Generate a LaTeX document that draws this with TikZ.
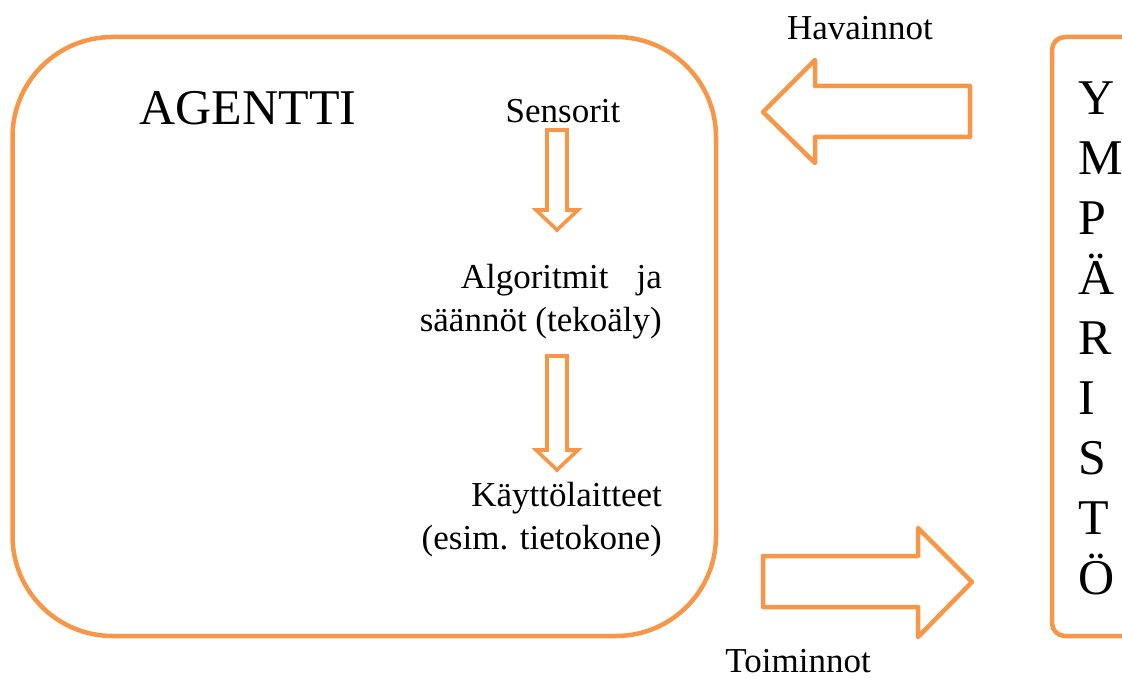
\documentclass[tikz,border=0pt]{standalone}
\usepackage{fontspec}
\setmainfont{Liberation Serif}
\definecolor{agentorange}{HTML}{F79646}

\begin{document}
\begin{tikzpicture}[x=1pt, y=-1pt, line cap=round,
  every node/.style={inner sep=0pt, text=black},
  bodytext/.style={font=\fontsize{35}{43}\selectfont},
  bigtext/.style={font=\fontsize{50}{60}\selectfont},
  frame/.style={draw=agentorange, line width=4.5pt},
  bigarrow/.style={draw=agentorange, line width=4.5pt, line join=round},
  smallarrow/.style={draw=agentorange, line width=3.6pt, line join=miter}]
  \useasboundingbox (0,0) rectangle (1122,679);

  \draw[frame, rounded corners=100pt] (12.5,37) rectangle (716,636);
  \draw[frame, rounded corners=13pt] (1052,37) rectangle (1160,636);

  \node[bigtext, anchor=base] (agentti) at (248,125) {AGENTTI};
  \node[bodytext, anchor=base] (sensorit) at (563,123) {Sensorit};
  \node[bodytext, anchor=east, align=right] (algoritmit) at (662,302)
    {Algoritmit\hspace{0.8em}ja\\ säännöt (tekoäly)};
  \node[bodytext, anchor=east, align=right] (laitteet) at (662,520)
    {Käyttölaitteet\\ (esim. tietokone)};
  \node[bodytext, anchor=base] (havainnot) at (860,40) {Havainnot};
  \node[bodytext, anchor=base] (toiminnot) at (798,672) {Toiminnot};
  \node[bigtext, anchor=west, align=left] (ymparisto) at (1078,338)
    {Y\\ M\\ P\\ Ä\\ R\\ I\\ S\\ T\\ Ö};

  \draw[smallarrow] (547,130) -- (567,130) -- (567,210) -- (578,210)
    -- (557,230) -- (536,210) -- (547,210) -- cycle;
  \draw[smallarrow] (547,356) -- (567,356) -- (567,450) -- (578,450)
    -- (557,470) -- (536,450) -- (547,450) -- cycle;

  \draw[bigarrow] (763,112) -- (815,60) -- (815,86) -- (970,86)
    -- (970,137) -- (815,137) -- (815,163) -- cycle;
  \draw[bigarrow] (763,556) -- (918,556) -- (918,528) -- (972,582)
    -- (918,637) -- (918,607) -- (763,607) -- cycle;
\end{tikzpicture}
\end{document}
